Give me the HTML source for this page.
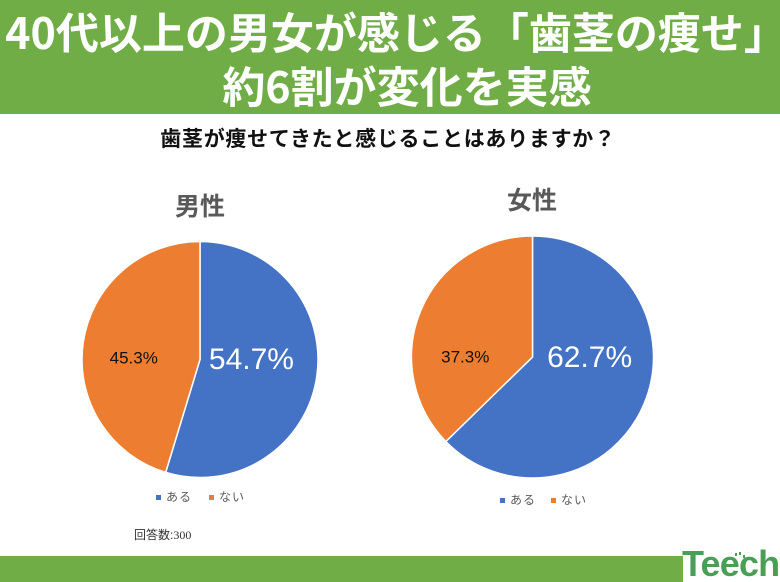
<!DOCTYPE html>
<html lang="ja">
<head>
<meta charset="utf-8">
<title>歯茎の痩せ</title>
<style>
html,body{margin:0;padding:0;background:#fff}
#page{position:relative;width:780px;height:582px;overflow:hidden;background:#fff;font-family:"Liberation Sans","Noto Sans CJK JP",sans-serif}
#page div{position:absolute;white-space:nowrap}
svg{position:absolute;left:0;top:0}
</style>
</head>
<body>
<div id="page">
<div style="left:0;top:0;width:780px;height:114px;background:#70ad47"></div>
<div style="left:0;top:5px;width:792px;text-align:center;color:#fff;font-family:'Noto Sans CJK JP',sans-serif;font-weight:700;font-size:43px;line-height:52px">40代以上の男女が感じる「歯茎の痩せ」</div>
<div style="left:0;top:59px;width:814px;text-align:center;color:#fff;font-family:'Noto Sans CJK JP',sans-serif;font-weight:700;font-size:43px;line-height:52px">約6割が変化を実感</div>
<div style="left:0;top:126px;width:776px;text-align:center;color:#111;font-weight:700;font-size:21px;letter-spacing:.72px;line-height:28px">歯茎が痩せてきたと感じることはありますか？</div>
<div style="left:175px;top:191px;color:#595959;font-weight:700;font-size:25px;line-height:32px">男性</div>
<div style="left:507px;top:185px;color:#595959;font-weight:700;font-size:25px;line-height:32px">女性</div>
<svg id="charts" width="780" height="582" viewBox="0 0 780 582"></svg>
<div style="left:156px;top:495px;width:5px;height:5px;background:#4472c4"></div>
<div style="left:166px;top:489px;color:#595959;font-size:12px;letter-spacing:1px;line-height:16px">ある</div>
<div style="left:209px;top:495px;width:5px;height:5px;background:#ed7d31"></div>
<div style="left:219px;top:489px;color:#595959;font-size:12px;letter-spacing:1px;line-height:16px">ない</div>
<div style="left:500px;top:498px;width:5px;height:5px;background:#4472c4"></div>
<div style="left:510px;top:492px;color:#595959;font-size:12px;letter-spacing:1px;line-height:16px">ある</div>
<div style="left:551px;top:498px;width:5px;height:5px;background:#ed7d31"></div>
<div style="left:561px;top:492px;color:#595959;font-size:12px;letter-spacing:1px;line-height:16px">ない</div>
<div style="left:134px;top:527px;color:#333;font-size:12px;line-height:16px">回答数:<span style="font-family:'Liberation Serif',serif">300</span></div>
<div style="left:0;top:556px;width:683px;height:26px;background:#70ad47"></div>
<div style="left:682px;top:544px;color:#4a9e56;font-weight:700;font-size:36px;line-height:40px;letter-spacing:-.8px">Teech</div>
<div style="left:735px;top:553px;width:2px;height:3px;background:#4a9e56"></div>
<div style="left:739px;top:552px;width:2px;height:3px;background:#4a9e56"></div>
<div style="left:743px;top:555px;width:2px;height:3px;background:#4a9e56"></div>
</div>
<script>
var categories = ['ある', 'ない'];
var maleValues = [54.7, 45.3];
var femaleValues = [62.7, 37.3];
var sliceColors = ['#4472c4', '#ed7d31'];
var labelColors = ['#fff', '#111'];
var labelFontSizes = [30, 17];
var NS = 'http://www.w3.org/2000/svg';
var svg = document.getElementById('charts');

function polar(cx, cy, r, pct) {
  var a = pct / 100 * 2 * Math.PI;
  return [cx + r * Math.sin(a), cy - r * Math.cos(a)];
}

function drawPie(values, cx, cy, r, labelRadii, labelShifts, chartName) {
  var total = values.reduce(function (s, v) { return s + v; }, 0);
  var start = 0;
  values.forEach(function (v, i) {
    var pct = v / total * 100;
    var p0 = polar(cx, cy, r, start);
    var p1 = polar(cx, cy, r, start + pct);
    var path = document.createElementNS(NS, 'path');
    path.setAttribute('d', 'M' + cx + ' ' + cy + 'L' + p0[0] + ' ' + p0[1] + 'A' + r + ' ' + r + ' 0 ' + (pct > 50 ? 1 : 0) + ' 1 ' + p1[0] + ' ' + p1[1] + 'Z');
    path.setAttribute('fill', sliceColors[i]);
    path.setAttribute('stroke', '#fff');
    path.setAttribute('stroke-width', '1.5');
    
    
    path.setAttribute('aria-label', chartName + ' ' + categories[i]);
    svg.appendChild(path);
    var lp = polar(cx, cy, labelRadii[i], start + pct / 2);
    var t = document.createElementNS(NS, 'text');
    t.setAttribute('x', lp[0]);
    t.setAttribute('y', lp[1] + labelShifts[i]);
    t.setAttribute('text-anchor', 'middle');
    t.setAttribute('font-size', labelFontSizes[i]);
    t.setAttribute('fill', labelColors[i]);
    t.setAttribute('font-family', '"Liberation Sans","Noto Sans CJK JP",sans-serif');
    
    
    t.textContent = v.toFixed(1) + '%';
    svg.appendChild(t);
    start += pct;
  });
}

drawPie(maleValues, 200, 359.5, 118, [52, 67], [2, 14], '男性');
drawPie(femaleValues, 532.5, 357, 121, [62, 73], [-14, 34], '女性');
</script>
</body>
</html>
